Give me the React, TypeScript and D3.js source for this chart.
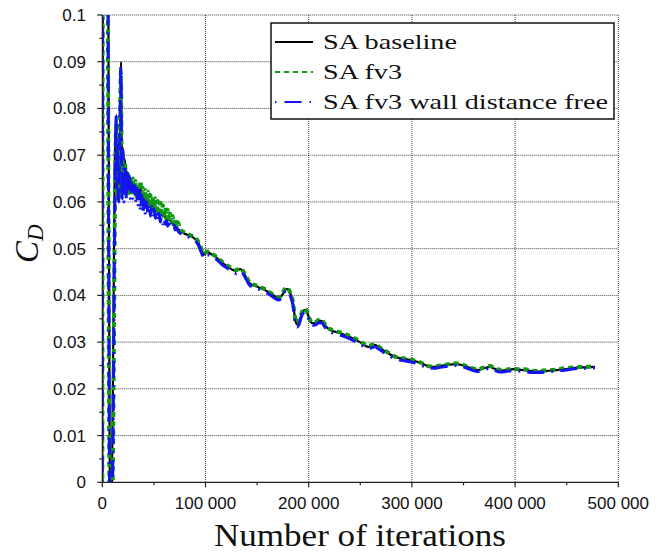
import React from "react";
import * as d3 from "d3";

type P = [number, number];

const xTicks = [0, 100000, 200000, 300000, 400000, 500000];
const xTickLabels = ["0", "100 000", "200 000", "300 000", "400 000", "500 000"];
const xMinorTicks = [50000, 150000, 250000, 350000, 450000];
const yTicks = [0, 0.01, 0.02, 0.03, 0.04, 0.05, 0.06, 0.07, 0.08, 0.09, 0.1];
const yTickLabels = ["0", "0.01", "0.02", "0.03", "0.04", "0.05", "0.06", "0.07", "0.08", "0.09", "0.1"];
const yMinorTicks = [0.005, 0.015, 0.025, 0.035, 0.045, 0.055, 0.065, 0.075, 0.085, 0.095];

const seriesNames = ["SA baseline", "SA fv3", "SA fv3 wall distance free"];

const baseline: P[] = [
  [0, -0.005], [700, 0.14], [3000, 0.2], [5300, 0.14], [7600, -0.005], [9200, -0.005],
  [12000, 0.068], [12800, 0.074], [13700, 0.0786], [14400, 0.061], [15200, 0.071], [16000, 0.0625],
  [17000, 0.074], [18200, 0.09], [19300, 0.0605], [20200, 0.0715], [21100, 0.0625], [22000, 0.069],
  [23000, 0.0625], [24000, 0.0665], [25200, 0.0625], [26500, 0.0645], [28000, 0.0625], [29500, 0.064],
  [31000, 0.062], [32500, 0.0635], [34000, 0.0615], [35500, 0.063], [36600, 0.063], [38500, 0.0615],
  [41400, 0.0605], [44000, 0.0607], [46200, 0.0598], [50000, 0.059], [55900, 0.0577], [60500, 0.0568],
  [65600, 0.056], [70000, 0.055], [75300, 0.0538], [79000, 0.0533], [82100, 0.053], [87900, 0.0524],
  [92700, 0.0514], [95600, 0.05], [98500, 0.0487], [101500, 0.0493], [106300, 0.0487], [111100, 0.048],
  [116000, 0.047], [121800, 0.0461], [126000, 0.0455], [129500, 0.0452], [133400, 0.0456], [136000, 0.0452],
  [138300, 0.0443], [143100, 0.0425], [150900, 0.0418], [156000, 0.0413], [162500, 0.0405], [167000, 0.0398],
  [171200, 0.0394], [175000, 0.0403], [178000, 0.0414], [180000, 0.0413], [182000, 0.0405], [184800, 0.0384],
  [186800, 0.035], [188700, 0.0338], [191000, 0.0345], [193500, 0.0362], [196400, 0.0369], [199000, 0.036],
  [201500, 0.0345], [204200, 0.034], [207500, 0.0342], [210000, 0.0346], [212900, 0.0345], [216000, 0.0335],
  [220600, 0.0326], [226000, 0.0322], [233200, 0.0317], [240000, 0.0311], [249700, 0.03], [257500, 0.029],
  [261000, 0.0292], [264200, 0.0294], [268000, 0.0289], [272000, 0.0283], [278000, 0.0275], [283700, 0.0268],
  [290000, 0.0265], [298200, 0.0262], [305000, 0.0258], [312000, 0.0252], [317600, 0.0247], [322000, 0.0247],
  [327200, 0.0249], [334000, 0.0251], [341700, 0.0253], [348500, 0.0251], [356000, 0.0245], [364000, 0.024],
  [370000, 0.0244], [375700, 0.0247], [380000, 0.0243], [385400, 0.0239], [391000, 0.024], [398000, 0.0242],
  [404000, 0.0241], [409600, 0.024], [416000, 0.0238], [422200, 0.0237], [430000, 0.0238], [438700, 0.024],
  [448000, 0.0242], [458000, 0.0245], [468000, 0.0246], [477400, 0.0247],
];

const fv3: P[] = [
  [0, -0.005], [600, 0.14], [3000, 0.2], [4800, 0.14], [7200, -0.005], [9500, -0.005],
  [12800, 0.07], [13500, 0.077], [14200, 0.062], [15000, 0.072], [16000, 0.061], [17100, 0.075],
  [18000, 0.088], [19000, 0.062], [20000, 0.07], [21000, 0.061], [22000, 0.0685], [23000, 0.062],
  [24000, 0.066], [25000, 0.066], [26200, 0.0615], [27400, 0.0655], [28600, 0.062], [29800, 0.065],
  [31000, 0.0615], [32200, 0.0645], [33400, 0.061], [34600, 0.064], [35800, 0.0605], [37000, 0.0645],
  [38200, 0.0605], [39400, 0.063], [40600, 0.0595], [41800, 0.0625], [43000, 0.059], [44200, 0.0622],
  [45400, 0.0588], [46600, 0.0615], [47800, 0.058], [49000, 0.0612], [50200, 0.0578], [51400, 0.0608],
  [52600, 0.0575], [53800, 0.0602], [55000, 0.057], [56200, 0.0598], [57400, 0.0567], [58600, 0.0593],
  [59800, 0.0565], [61000, 0.0588], [62200, 0.0562], [63400, 0.0583], [64600, 0.056], [65800, 0.0575],
  [67000, 0.0556], [68200, 0.057], [69400, 0.0552], [70600, 0.0565], [72000, 0.0548], [73500, 0.0556],
  [75300, 0.0541], [79000, 0.0536], [82100, 0.0532], [87900, 0.0526], [92700, 0.0516], [95600, 0.0502],
  [98500, 0.0489], [101500, 0.0494], [106300, 0.0489], [111100, 0.0482], [116000, 0.0472], [121800, 0.0463],
  [126000, 0.0457], [129500, 0.0454], [133400, 0.0458], [136000, 0.0453], [138300, 0.0445], [143100, 0.0427],
  [150900, 0.042], [156000, 0.0415], [162500, 0.0406], [167000, 0.04], [171200, 0.0396], [175000, 0.0406],
  [178000, 0.0417], [180000, 0.0415], [182000, 0.0406], [184800, 0.0385], [186800, 0.0352], [188700, 0.034],
  [191000, 0.0348], [193500, 0.0365], [196400, 0.0372], [199000, 0.0362], [201500, 0.0347], [204200, 0.0342],
  [207500, 0.0344], [210000, 0.0348], [212900, 0.0347], [216000, 0.0337], [220600, 0.0328], [226000, 0.0324],
  [233200, 0.0319], [240000, 0.0313], [249700, 0.0302], [257500, 0.0292], [261000, 0.0294], [264200, 0.0296],
  [268000, 0.029], [272000, 0.0284], [278000, 0.0276], [283700, 0.0269], [290000, 0.0266], [298200, 0.0263],
  [305000, 0.0259], [312000, 0.0253], [317600, 0.0248], [322000, 0.0248], [327200, 0.025], [334000, 0.0252],
  [341700, 0.0255], [348500, 0.0252], [356000, 0.0246], [364000, 0.0242], [370000, 0.0246], [375700, 0.0249],
  [380000, 0.0245], [385400, 0.0241], [391000, 0.0241], [398000, 0.0243], [404000, 0.0242], [409600, 0.0242],
  [416000, 0.0239], [422200, 0.0238], [430000, 0.024], [438700, 0.0241], [448000, 0.0244], [458000, 0.0246],
  [468000, 0.0247], [477400, 0.0248],
];

const fv3WallFree: P[] = [
  [0, -0.005], [650, 0.14], [3000, 0.2], [4900, 0.14], [7300, -0.005], [9400, -0.005],
  [12600, 0.069], [13300, 0.0786], [14000, 0.063], [14800, 0.073], [15800, 0.06], [16800, 0.072],
  [18000, 0.089], [19000, 0.06], [20000, 0.071], [21000, 0.06], [22000, 0.068], [23000, 0.0605],
  [24000, 0.067], [25000, 0.062], [26200, 0.0655], [27400, 0.0605], [28600, 0.064], [29800, 0.0605],
  [31000, 0.0635], [32200, 0.06], [33400, 0.063], [34600, 0.059], [35800, 0.0625], [37000, 0.058],
  [38200, 0.0615], [39400, 0.0575], [40600, 0.0605], [41800, 0.0572], [43000, 0.06], [44200, 0.0575],
  [45400, 0.0595], [46600, 0.057], [47800, 0.059], [49000, 0.0568], [50200, 0.0585], [51400, 0.0565],
  [52600, 0.058], [53800, 0.056], [55000, 0.0575], [56200, 0.0557], [57400, 0.057], [58600, 0.0553],
  [59800, 0.0565], [61000, 0.0552], [62200, 0.056], [63400, 0.0548], [64600, 0.0556], [65800, 0.0546],
  [67000, 0.0553], [68200, 0.0543], [69400, 0.055], [70600, 0.054], [72000, 0.0545], [73500, 0.0537],
  [75300, 0.0533], [79000, 0.0528], [82100, 0.0526], [87900, 0.052], [92700, 0.0509], [95600, 0.0494],
  [98500, 0.048], [101500, 0.0487], [106300, 0.0483], [111100, 0.0476], [116000, 0.0466], [121800, 0.0457],
  [126000, 0.045], [129500, 0.0447], [133400, 0.0452], [136000, 0.0448], [138300, 0.0439], [143100, 0.0421],
  [150900, 0.0414], [156000, 0.0409], [162500, 0.0401], [167000, 0.0394], [171200, 0.039], [175000, 0.04],
  [178000, 0.041], [180000, 0.0409], [182000, 0.04], [184800, 0.0378], [186800, 0.0342], [188700, 0.0332],
  [191000, 0.034], [193500, 0.0358], [196400, 0.0364], [199000, 0.0355], [201500, 0.034], [204200, 0.0336],
  [207500, 0.0338], [210000, 0.0342], [212900, 0.0341], [216000, 0.0331], [220600, 0.0322], [226000, 0.0318],
  [233200, 0.0313], [240000, 0.0307], [249700, 0.0296], [257500, 0.0286], [261000, 0.0288], [264200, 0.029],
  [268000, 0.0285], [272000, 0.0279], [278000, 0.0271], [283700, 0.0264], [290000, 0.0261], [298200, 0.0258],
  [305000, 0.0254], [312000, 0.0248], [317600, 0.0244], [322000, 0.0244], [327200, 0.0246], [334000, 0.0248],
  [341700, 0.025], [348500, 0.0248], [356000, 0.0242], [364000, 0.0237], [370000, 0.0241], [375700, 0.0244],
  [380000, 0.024], [385400, 0.0236], [391000, 0.0237], [398000, 0.0239], [404000, 0.0238], [409600, 0.0237],
  [416000, 0.0235], [422200, 0.0235], [430000, 0.0236], [438700, 0.0238], [448000, 0.024], [458000, 0.0243],
  [468000, 0.0244], [477400, 0.0245],
];

const W = 667;
const H = 554;
const L = 102.3, R = 618.3, T = 15, B = 482.3;

const SANS = "'Liberation Sans', Arial, sans-serif";
const SERIF = "'Liberation Serif', 'Times New Roman', serif";

const GREEN = "#119911";
const BLUE = "#1414f0";

const legendWidths = [134, 79, 285];

export default function App() {
  const x = d3.scaleLinear().domain([0, 500000]).range([L, R]);
  const y = d3.scaleLinear().domain([0, 0.1]).range([B, T]);
  const line = d3
    .line<P>()
    .x((d) => x(d[0]))
    .y((d) => y(d[1]))
    .curve(d3.curveMonotoneX);

  const styles = [
    { stroke: "#000", width: 2.2, dash: undefined as string | undefined },
    { stroke: GREEN, width: 4, dash: "5,4" },
    { stroke: BLUE, width: 3, dash: "17,7,2,7" },
  ];
  const data = [baseline, fv3, fv3WallFree];

  return (
    <svg width={W} height={H} style={{ position: "absolute", left: 0, top: 0, background: "#fff" }}>
      <defs>
        <clipPath id="plotclip">
          <rect x={L} y={T} width={R - L} height={B - T} />
        </clipPath>
      </defs>
      <rect x={0} y={0} width={W} height={H} fill="#fff" />
      <g stroke="#444" strokeWidth={1} strokeDasharray="1,1">
        {xTicks.slice(1).map((t) => (
          <line key={"gx" + t} x1={x(t)} x2={x(t)} y1={T} y2={B} />
        ))}
        {yTicks.slice(1).map((t) => (
          <line key={"gy" + t} x1={L} x2={R} y1={y(t)} y2={y(t)} />
        ))}
      </g>
      <g clipPath="url(#plotclip)" fill="none">
        {data.map((d, i) => (
          <path
            key={i}
            d={line(d) || ""}
            stroke={styles[i].stroke}
            strokeWidth={styles[i].width}
            strokeDasharray={styles[i].dash}
            strokeLinejoin="round"
          />
        ))}
      </g>
      <g stroke="#222" strokeWidth={1.2}>
        <line x1={L} x2={R} y1={B} y2={B} />
        <line x1={L} x2={L} y1={T} y2={B} />
        {xTicks.map((t) => (
          <line key={"tx" + t} x1={x(t)} x2={x(t)} y1={B} y2={B + 5} />
        ))}
        {xMinorTicks.map((t) => (
          <line key={"mx" + t} x1={x(t)} x2={x(t)} y1={B} y2={B + 3} />
        ))}
        {yTicks.map((t) => (
          <line key={"ty" + t} x1={L - 5} x2={L} y1={y(t)} y2={y(t)} />
        ))}
        {yMinorTicks.map((t) => (
          <line key={"my" + t} x1={L - 3} x2={L} y1={y(t)} y2={y(t)} />
        ))}
      </g>
      <g fontFamily={SANS} fontSize={17} fill="#111">
        {xTicks.map((t, i) => (
          <text key={"lx" + t} x={x(t)} y={509} textAnchor="middle">
            {xTickLabels[i]}
          </text>
        ))}
        {yTicks.map((t, i) => (
          <text key={"ly" + t} x={86} y={y(t) + 6} textAnchor="end">
            {yTickLabels[i]}
          </text>
        ))}
      </g>
      <text
        x={360}
        y={546}
        textAnchor="middle"
        fontFamily={SERIF}
        fontSize={31}
        fill="#111"
        textLength={292}
        lengthAdjust="spacingAndGlyphs"
      >
        Number of iterations
      </text>
      <g transform="translate(38,263) rotate(-90)">
        <text x={0} y={0} fontFamily={SERIF} fontStyle="italic" fontSize={33} fill="#111">
          C
          <tspan fontSize={23} dy={5}>
            D
          </tspan>
        </text>
      </g>
      <g>
        <rect x={271} y={23} width={343} height={96} fill="#fff" stroke="#111" strokeWidth={1.5} />
        {seriesNames.map((n, i) => {
          const yy = 42 + i * 30;
          return (
            <g key={n}>
              <line
                x1={275}
                x2={313}
                y1={yy}
                y2={yy}
                stroke={styles[i].stroke}
                strokeWidth={2}
                strokeDasharray={i === 0 ? undefined : i === 1 ? "5,4" : "1.5,8,17,8"}
              />
              <text
                x={323}
                y={yy + 7}
                fontFamily={SERIF}
                fontSize={22}
                fill="#111"
                textLength={legendWidths[i]}
                lengthAdjust="spacingAndGlyphs"
              >
                {n}
              </text>
            </g>
          );
        })}
      </g>
    </svg>
  );
}
